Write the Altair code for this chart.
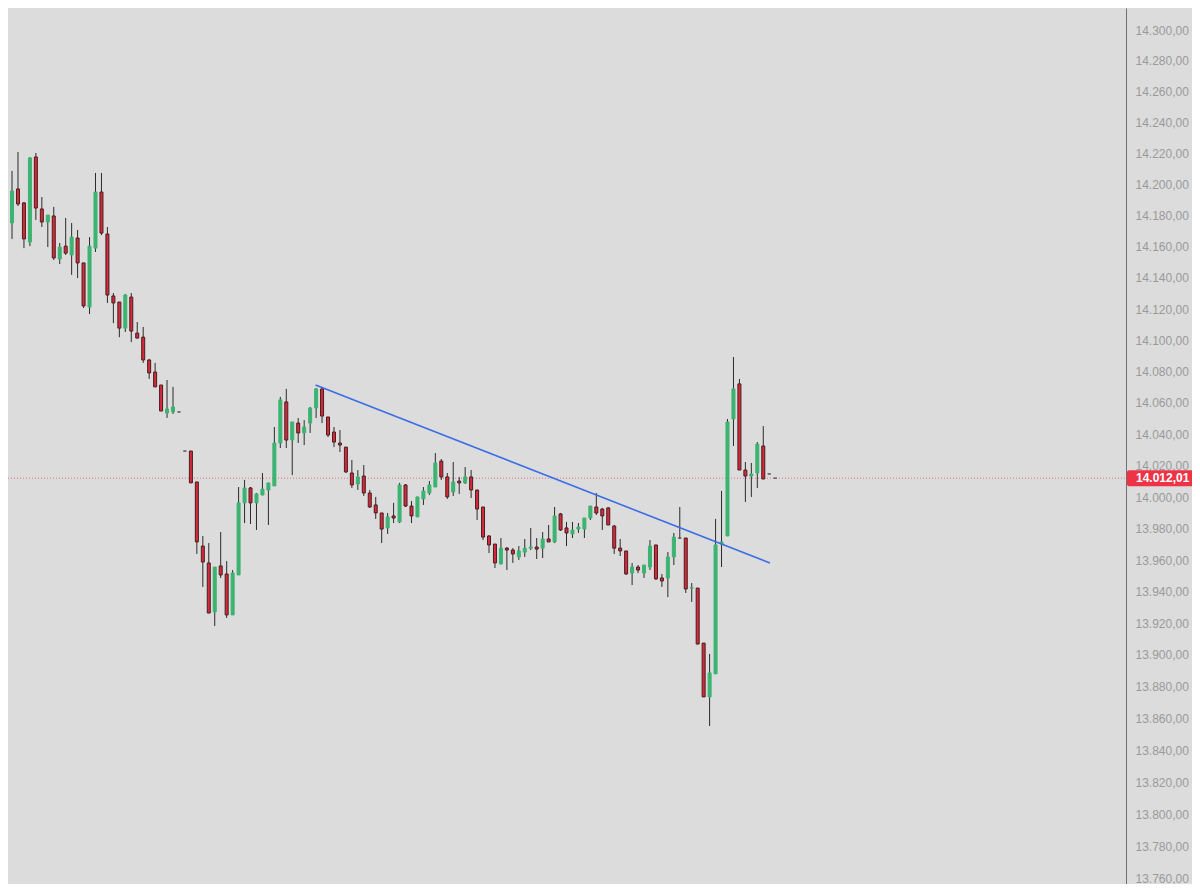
import altair as alt
import pandas as pd
import numpy as np

# OHLC values (one candle per bar, left to right)
opens = [14172.7, 14175.3, 14197.2, 14188.2, 14163.0, 14217.8, 14184.3, 14175.9, 14179.8, 14152.1,
         14160.4, 14154.7, 14165.6, 14149.6, 14121.3, 14159.1, 14195.2, 14168.2, 14128.4, 14124.5,
         14107.8, 14127.7, 14104.6, 14102.0, 14087.4, 14079.7, 14071.4, 14053.5, 14054.2, 14054.2,
         14029.3, 14029.3, 14009.6, 13968.9, 13958.2, 13927.2, 13956.3, 13951.2, 13925.3, 13950.6,
         13996.3, 14005.8, 13996.3, 14001.3, 14004.5, 14007.1, 14034.4, 14060.6, 14036.3, 14047.1,
         14040.8, 14047.1, 14056.7, 14068.9, 14051.0, 14041.4, 14034.4, 14031.8, 14015.3, 14008.3,
         14013.4, 14002.6, 13995.0, 13989.9, 13980.4, 13988.0, 13984.2, 14007.7, 13994.3, 13987.4,
         13998.8, 14002.6, 14006.4, 14022.9, 14012.8, 14003.2, 14010.2, 14009.0, 14012.8, 14004.5,
         13993.7, 13975.3, 13970.2, 13957.5, 13967.6, 13966.4, 13962.0, 13965.1, 13967.6, 13968.3,
         13967.6, 13973.4, 13971.5, 13989.3, 13980.4, 13976.6, 13979.7, 13979.7, 13986.7, 13993.7,
         13992.4, 13993.1, 13981.6, 13967.6, 13965.8, 13951.8, 13955.6, 13951.8, 13955.6, 13969.6,
         13948.7, 13948.7, 13962.0, 13974.0, 13974.0, 13942.3, 13942.3, 13907.5, 13873.6, 13888.1,
         13970.2, 13975.3, 14049.7, 14072.1, 14017.2, 14013.4, 14015.3, 14032.5, 14014.7, 14012.0]
highs = [14194.6, 14208.8, 14221.0, 14188.8, 14217.8, 14220.4, 14192.0, 14180.4, 14185.6, 14162.4,
         14178.5, 14175.3, 14170.8, 14149.6, 14166.2, 14207.5, 14207.5, 14172.7, 14130.3, 14124.5,
         14129.7, 14130.3, 14111.7, 14108.5, 14088.1, 14085.5, 14071.4, 14074.6, 14070.2, 14054.2,
         14029.3, 14029.3, 14009.6, 13975.3, 13970.8, 13955.6, 13977.8, 13959.4, 13953.7, 14006.4,
         14010.9, 14006.4, 14002.6, 14015.3, 14009.0, 14044.6, 14063.8, 14068.9, 14047.8, 14050.3,
         14049.0, 14057.4, 14069.5, 14070.2, 14051.0, 14044.6, 14042.7, 14031.8, 14023.6, 14017.2,
         14020.4, 14004.5, 14000.1, 13989.9, 13989.9, 13996.3, 14009.0, 14008.3, 13997.5, 14000.1,
         14006.4, 14010.2, 14028.0, 14024.2, 14015.3, 14022.3, 14012.8, 14019.1, 14017.2, 14004.5,
         13993.7, 13975.9, 13970.2, 13974.0, 13968.3, 13967.6, 13968.9, 13973.4, 13980.4, 13974.0,
         13977.8, 13982.3, 13993.7, 13989.9, 13984.2, 13984.2, 13983.5, 13986.7, 13994.3, 14002.6,
         13993.1, 13993.7, 13982.3, 13973.4, 13965.8, 13958.2, 13956.9, 13956.9, 13972.7, 13969.6,
         13951.2, 13965.1, 13977.2, 13993.7, 13974.0, 13945.5, 13942.3, 13907.5, 13900.7, 13986.1,
         14003.9, 14049.7, 14089.3, 14075.3, 14022.3, 14021.7, 14035.0, 14045.2, 14014.7, 14012.0]
lows = [14157.9, 14165.0, 14186.2, 14159.1, 14160.4, 14177.2, 14172.7, 14159.8, 14151.5, 14148.9,
        14154.7, 14141.9, 14139.9, 14120.7, 14116.8, 14156.6, 14167.5, 14123.9, 14111.0, 14102.0,
        14105.3, 14098.8, 14101.4, 14085.5, 14075.3, 14070.2, 14054.8, 14050.4, 14052.9, 14054.2,
        14029.3, 14009.0, 13963.9, 13943.0, 13926.5, 13918.3, 13948.7, 13923.4, 13925.3, 13950.6,
        13983.5, 13982.9, 13979.1, 14001.3, 13982.3, 14007.1, 14031.2, 14031.2, 14014.0, 14034.4,
        14033.1, 14040.8, 14050.3, 14047.1, 14038.2, 14031.8, 14028.7, 14015.3, 14005.8, 14004.5,
        14000.7, 13993.1, 13986.1, 13970.8, 13976.6, 13983.5, 13983.5, 13993.7, 13983.5, 13987.4,
        13995.0, 14001.3, 14006.4, 14010.9, 13998.8, 14000.7, 14002.0, 14008.3, 13999.4, 13985.4,
        13972.7, 13964.5, 13955.0, 13957.5, 13953.7, 13958.2, 13960.1, 13962.0, 13966.4, 13960.7,
        13961.3, 13971.5, 13970.8, 13978.5, 13968.9, 13974.0, 13977.2, 13974.0, 13985.4, 13988.6,
        13979.1, 13982.3, 13963.9, 13962.6, 13950.6, 13944.2, 13951.8, 13948.7, 13953.7, 13947.4,
        13943.0, 13936.6, 13956.9, 13973.4, 13939.2, 13933.5, 13906.9, 13873.6, 13855.3, 13888.1,
        13955.6, 13975.3, 14032.5, 14017.2, 13996.9, 14000.1, 14005.8, 14011.5, 14014.7, 14012.0]
closes = [14177.2, 14195.9, 14187.5, 14165.0, 14217.2, 14184.9, 14175.9, 14180.4, 14152.8, 14159.8,
          14155.9, 14166.2, 14149.6, 14122.0, 14160.4, 14195.2, 14168.8, 14129.0, 14123.9, 14107.8,
          14129.0, 14105.9, 14101.4, 14087.4, 14079.1, 14070.2, 14054.8, 14056.1, 14057.4, 14054.2,
          14029.3, 14009.0, 13971.5, 13958.8, 13926.5, 13955.6, 13950.6, 13925.3, 13951.8, 13996.3,
          14005.8, 13996.3, 14002.0, 14005.1, 14009.0, 14034.4, 14061.9, 14036.3, 14047.8, 14040.8,
          14044.6, 14056.7, 14068.9, 14051.6, 14039.5, 14035.0, 14033.1, 14016.0, 14007.7, 14012.8,
          14002.6, 13993.7, 13989.9, 13979.7, 13987.4, 13986.7, 14007.7, 13994.3, 13988.0, 14000.1,
          14003.9, 14007.7, 14021.7, 14012.8, 14000.1, 14009.6, 14009.0, 14012.8, 14004.5, 13992.4,
          13974.6, 13969.6, 13958.2, 13967.6, 13966.4, 13963.9, 13965.8, 13967.6, 13968.3, 13967.0,
          13973.4, 13971.5, 13988.0, 13979.1, 13977.2, 13979.1, 13981.0, 13986.7, 13994.3, 13989.9,
          13988.0, 13982.3, 13967.6, 13965.8, 13951.2, 13955.6, 13953.7, 13956.9, 13968.9, 13948.1,
          13946.8, 13962.0, 13974.6, 13974.0, 13941.7, 13942.6, 13906.9, 13873.6, 13888.7, 13969.6,
          13971.5, 14047.8, 14068.9, 14017.2, 14013.4, 14014.7, 14033.7, 14011.5, 14014.7, 14012.0]

# current price and axis labels
price_now = 14012.01
price_text = "14.012,01"
tick_values = list(range(13760, 14301, 20))

# drawn trend line (bar index, price)
trend_idx = [51.91, 128.11]
trend_val = [14071.4, 13958.2]

GREEN = "#3cb371"
RED = "#d42a3a"
RED_EDGE = "#4a1c20"
FLAT = "#555555"
BG = "#dcdcdc"
AXIS = "#6f6f6f"

df = pd.DataFrame({"i": np.arange(len(opens)), "open": opens, "high": highs,
                   "low": lows, "close": closes})
df["top"] = df[["open", "close"]].max(axis=1)
df["bot"] = df[["open", "close"]].min(axis=1)
df["dir"] = np.where(df["close"] > df["open"], "up",
                     np.where(df["close"] < df["open"], "down", "flat"))

trend = pd.DataFrame({"i": trend_idx, "v": trend_val})

W, H = 1118, 870
xscale = alt.Scale(domain=[1.1636, 187.0], nice=False, zero=False)
yscale = alt.Scale(type="log", domain=[13760.0, 14314.29], nice=False, zero=False)
yaxis = alt.Axis(orient="right", values=tick_values, title=None, grid=False, ticks=False,
                 domain=True, domainColor=AXIS, domainWidth=1,
                 labelColor="#9a9a9a", labelFontSize=12, labelFont="Liberation Sans",
                 labelPadding=9, labelAlign="left", labelBaseline="middle",
                 labelOverlap=False, labelFlush=False,
                 labelExpr="replace(replace(replace(format(datum.value, ',.2f'), ',', '_'), '.', ','), '_', '.')")

color_scale = alt.Scale(domain=["up", "down", "flat"], range=[GREEN, RED, FLAT])
stroke_scale = alt.Scale(domain=["up", "down", "flat"], range=[GREEN, RED_EDGE, FLAT])

base = alt.Chart(df)

price_line = alt.Chart(df).mark_rule(color="#e4707a", strokeDash=[1, 2], strokeWidth=1).encode(
    y=alt.datum(price_now, scale=yscale, axis=yaxis),
    x=alt.value(0), x2=alt.value(W)
).transform_filter("datum.i == 0")

# continuation of the price-axis line down to the window edge
axis_tail = alt.Chart(df).mark_rule(color=AXIS, strokeWidth=1).encode(
    x=alt.value(W + 0.5), y=alt.value(H), y2=alt.value(H + 6)
).transform_filter("datum.i == 0")

wicks = base.mark_rule(color="#2b2b2b", strokeWidth=1).encode(
    x=alt.X("i:Q", scale=xscale, axis=None),
    y=alt.Y("low:Q", scale=yscale, axis=yaxis),
    y2="high:Q",
)

bodies = base.mark_bar(size=3, strokeWidth=1).encode(
    x=alt.X("i:Q", scale=xscale, axis=None),
    y=alt.Y("bot:Q", scale=yscale, axis=yaxis),
    y2="top:Q",
    color=alt.Color("dir:N", scale=color_scale, legend=None),
    stroke=alt.Stroke("dir:N", scale=stroke_scale, legend=None),
)

trend_line = alt.Chart(trend).mark_line(color="#3a6de6", strokeWidth=1.6).encode(
    x=alt.X("i:Q", scale=xscale, axis=None),
    y=alt.Y("v:Q", scale=yscale, axis=yaxis),
)

label_df = pd.DataFrame({"t": [price_text]})
label_box = alt.Chart(label_df).mark_rect(color="#ee3346", cornerRadius=2,
                                          yOffset=-8, y2Offset=8).encode(
    x=alt.value(W + 1), x2=alt.value(W + 68),
    y=alt.datum(price_now), y2=alt.datum(price_now),
)
label_text = alt.Chart(label_df).mark_text(color="white", fontWeight="bold", fontSize=12,
                                           font="Liberation Sans", align="left",
                                           baseline="middle").encode(
    x=alt.value(W + 10), y=alt.datum(price_now), text="t:N",
)

chart = alt.layer(price_line, axis_tail, wicks, bodies, trend_line, label_box, label_text).properties(
    width=W, height=H,
    autosize=alt.AutoSizeParams(type="none"),
    padding={"left": 0, "top": 0, "right": 66, "bottom": 6},
    background=BG,
).configure_view(strokeWidth=0, fill=BG)

chart.save("out.html", embed_options={"renderer": "svg", "actions": False})
